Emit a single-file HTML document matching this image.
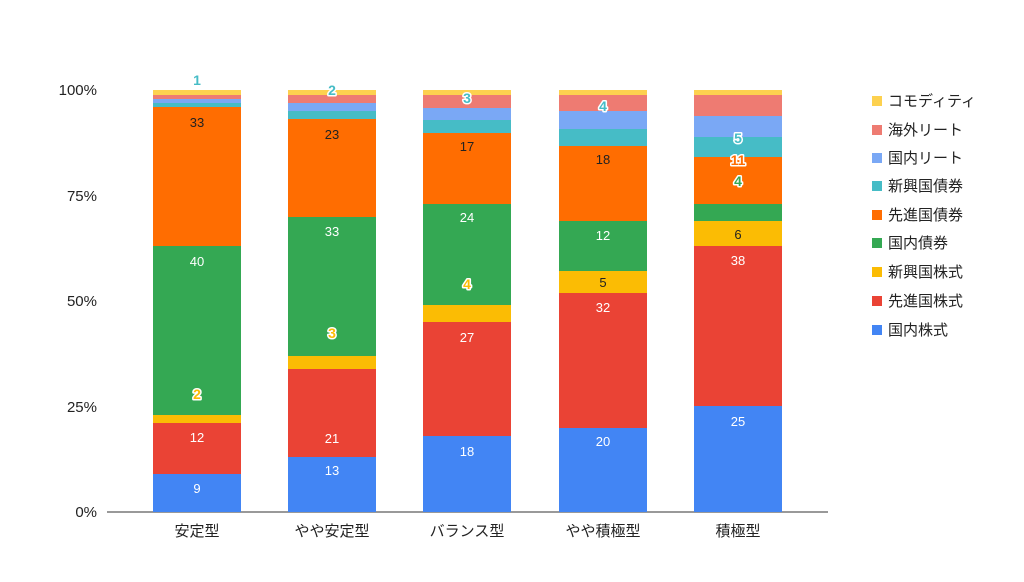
<!DOCTYPE html>
<html><head><meta charset="utf-8"><style>
html,body{margin:0;padding:0;background:#fff;}
text{font-family:"Liberation Sans","Noto Sans CJK JP",sans-serif;}
.o{paint-order:stroke;stroke:#fff;stroke-width:3px;stroke-linejoin:round;font-weight:bold;}
</style></head><body>
<svg width="1024" height="577" xmlns="http://www.w3.org/2000/svg">
<g id="bars"></g>
<line x1="107" y1="512" x2="828" y2="512" stroke="#333" stroke-width="1"/>
<g font-size="15" fill="#222" text-anchor="end">
<text x="97" y="95">100%</text><text x="97" y="201">75%</text><text x="97" y="306">50%</text><text x="97" y="412">25%</text><text x="97" y="517">0%</text>
</g>
<g font-size="15" fill="#222" text-anchor="middle">
<text x="197" y="536">安定型</text><text x="332" y="536">やや安定型</text><text x="467" y="536">バランス型</text><text x="603" y="536">やや積極型</text><text x="738" y="536">積極型</text>
</g>
<g font-size="15" fill="#222">
<rect x="872" y="96" width="10" height="10" fill="#fdd14f"/><text x="888" y="106">コモディティ</text>
<rect x="872" y="125" width="10" height="10" fill="#ee7b72"/><text x="888" y="135">海外リート</text>
<rect x="872" y="153" width="10" height="10" fill="#7aa8f5"/><text x="888" y="163">国内リート</text>
<rect x="872" y="181" width="10" height="10" fill="#46bcc6"/><text x="888" y="191">新興国債券</text>
<rect x="872" y="210" width="10" height="10" fill="#ff6d01"/><text x="888" y="220">先進国債券</text>
<rect x="872" y="238" width="10" height="10" fill="#34a853"/><text x="888" y="248">国内債券</text>
<rect x="872" y="267" width="10" height="10" fill="#fbbc04"/><text x="888" y="277">新興国株式</text>
<rect x="872" y="296" width="10" height="10" fill="#ea4335"/><text x="888" y="306">先進国株式</text>
<rect x="872" y="325" width="10" height="10" fill="#4285f4"/><text x="888" y="335">国内株式</text>
</g>
<!-- bars -->
<g>
<!-- bar1 x153 -->
<rect x="153" y="474" width="88" height="38" fill="#4285f4"/>
<rect x="153" y="423" width="88" height="51" fill="#ea4335"/>
<rect x="153" y="415" width="88" height="8" fill="#fbbc04"/>
<rect x="153" y="246" width="88" height="169" fill="#34a853"/>
<rect x="153" y="107" width="88" height="139" fill="#ff6d01"/>
<rect x="153" y="103" width="88" height="4" fill="#46bcc6"/>
<rect x="153" y="99" width="88" height="4" fill="#7aa8f5"/>
<rect x="153" y="95" width="88" height="4" fill="#ee7b72"/>
<rect x="153" y="90" width="88" height="5" fill="#fdd14f"/>
<!-- bar2 x288 -->
<rect x="288" y="457" width="88" height="55" fill="#4285f4"/>
<rect x="288" y="369" width="88" height="88" fill="#ea4335"/>
<rect x="288" y="356" width="88" height="13" fill="#fbbc04"/>
<rect x="288" y="217" width="88" height="139" fill="#34a853"/>
<rect x="288" y="119" width="88" height="98" fill="#ff6d01"/>
<rect x="288" y="111" width="88" height="8" fill="#46bcc6"/>
<rect x="288" y="103" width="88" height="8" fill="#7aa8f5"/>
<rect x="288" y="95" width="88" height="8" fill="#ee7b72"/>
<rect x="288" y="90" width="88" height="5" fill="#fdd14f"/>
<!-- bar3 x423 -->
<rect x="423" y="436" width="88" height="76" fill="#4285f4"/>
<rect x="423" y="322" width="88" height="114" fill="#ea4335"/>
<rect x="423" y="305" width="88" height="17" fill="#fbbc04"/>
<rect x="423" y="204" width="88" height="101" fill="#34a853"/>
<rect x="423" y="133" width="88" height="71" fill="#ff6d01"/>
<rect x="423" y="120" width="88" height="13" fill="#46bcc6"/>
<rect x="423" y="108" width="88" height="12" fill="#7aa8f5"/>
<rect x="423" y="95" width="88" height="13" fill="#ee7b72"/>
<rect x="423" y="90" width="88" height="5" fill="#fdd14f"/>
<!-- bar4 x559 -->
<rect x="559" y="428" width="88" height="84" fill="#4285f4"/>
<rect x="559" y="293" width="88" height="135" fill="#ea4335"/>
<rect x="559" y="271" width="88" height="22" fill="#fbbc04"/>
<rect x="559" y="221" width="88" height="50" fill="#34a853"/>
<rect x="559" y="146" width="88" height="75" fill="#ff6d01"/>
<rect x="559" y="129" width="88" height="17" fill="#46bcc6"/>
<rect x="559" y="111" width="88" height="18" fill="#7aa8f5"/>
<rect x="559" y="95" width="88" height="16" fill="#ee7b72"/>
<rect x="559" y="90" width="88" height="5" fill="#fdd14f"/>
<!-- bar5 x694 -->
<rect x="694" y="406" width="88" height="106" fill="#4285f4"/>
<rect x="694" y="246" width="88" height="160" fill="#ea4335"/>
<rect x="694" y="221" width="88" height="25" fill="#fbbc04"/>
<rect x="694" y="204" width="88" height="17" fill="#34a853"/>
<rect x="694" y="157" width="88" height="47" fill="#ff6d01"/>
<rect x="694" y="137" width="88" height="20" fill="#46bcc6"/>
<rect x="694" y="116" width="88" height="21" fill="#7aa8f5"/>
<rect x="694" y="95" width="88" height="21" fill="#ee7b72"/>
<rect x="694" y="90" width="88" height="5" fill="#fdd14f"/>
</g>
<g font-size="13" text-anchor="middle" fill="#fff">
<text x="197" y="493">9</text><text x="197" y="442">12</text><text x="197" y="266">40</text>
<text x="332" y="475">13</text><text x="332" y="443">21</text><text x="332" y="236">33</text>
<text x="467" y="456">18</text><text x="467" y="342">27</text><text x="467" y="222">24</text>
<text x="603" y="446">20</text><text x="603" y="312">32</text><text x="603" y="240">12</text>
<text x="738" y="426">25</text><text x="738" y="265">38</text>
</g>
<g font-size="13" text-anchor="middle" fill="#222">
<text x="197" y="127">33</text><text x="332" y="139">23</text><text x="467" y="151">17</text>
<text x="603" y="164">18</text><text x="603" y="287">5</text><text x="738" y="239">6</text>
</g>
<g font-size="14" text-anchor="middle">
<text class="o" x="197" y="399" fill="#fbbc04">2</text>
<text class="o" x="332" y="338" fill="#fbbc04">3</text>
<text class="o" x="467" y="289" fill="#fbbc04">4</text>
<text class="o" x="197" y="85" fill="#46bcc6">1</text>
<text class="o" x="332" y="95" fill="#46bcc6">2</text>
<text class="o" x="467" y="103" fill="#46bcc6">3</text>
<text class="o" x="603" y="111" fill="#46bcc6">4</text>
<text class="o" x="738" y="143" fill="#46bcc6">5</text>
<text class="o" x="738" y="165" fill="#ff6d01">11</text>
<text class="o" x="738" y="186" fill="#34a853">4</text>
</g>
</svg>
</body></html>
